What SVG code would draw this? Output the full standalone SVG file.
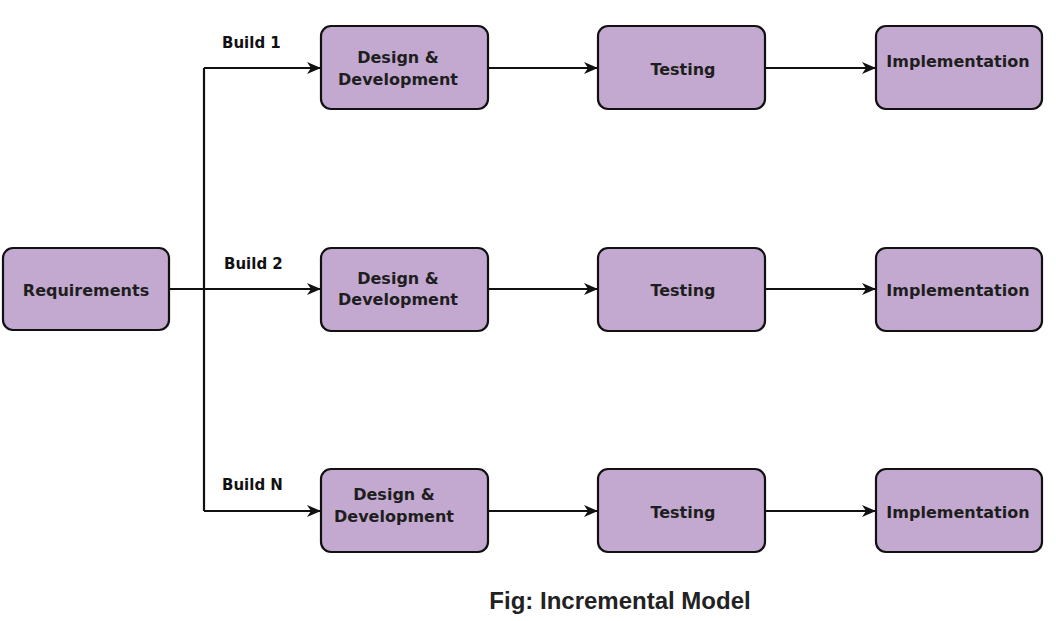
<svg xmlns="http://www.w3.org/2000/svg" width="1056" height="621" viewBox="0 0 1056 621">
  <style>
    .box { fill: #c3a9d0; stroke: #111; stroke-width: 2.2; }
    .lbl { font-family: "DejaVu Sans", Verdana, sans-serif; font-weight: bold; font-size: 16px; fill: #1e1e1e; text-anchor: middle; }
    .build { font-family: "DejaVu Sans", Verdana, sans-serif; font-weight: bold; font-size: 15px; fill: #111; }
    .title { font-family: "Liberation Sans", Arial, sans-serif; font-weight: bold; font-size: 24px; fill: #222; text-anchor: middle; }
    .conn { stroke: #111; stroke-width: 2.2; fill: none; }
  </style>
  <defs>
    <marker id="arr" viewBox="0 0 14 12" refX="14" refY="6" markerWidth="14" markerHeight="12" markerUnits="userSpaceOnUse" orient="auto">
      <path d="M0,0 L14,6 L0,12 L4,6 Z" fill="#111"/>
    </marker>
  </defs>
  <rect width="1056" height="621" fill="#ffffff"/>

  <g id="connectors">
    <path class="conn" d="M169,289 L321,289" marker-end="url(#arr)"/>
    <path class="conn" d="M204,68 L204,511"/>
    <path class="conn" d="M204,68 L321,68" marker-end="url(#arr)"/>
    <path class="conn" d="M204,511 L321,511" marker-end="url(#arr)"/>
    <path class="conn" d="M488,68 L598,68" marker-end="url(#arr)"/>
    <path class="conn" d="M488,289 L598,289" marker-end="url(#arr)"/>
    <path class="conn" d="M488,511 L598,511" marker-end="url(#arr)"/>
    <path class="conn" d="M765,68 L876,68" marker-end="url(#arr)"/>
    <path class="conn" d="M765,289 L876,289" marker-end="url(#arr)"/>
    <path class="conn" d="M765,511 L876,511" marker-end="url(#arr)"/>
    <text class="build" x="222" y="48">Build 1</text>
    <text class="build" x="224" y="269">Build 2</text>
    <text class="build" x="222" y="490">Build N</text>
  </g>

  <g id="requirements">
    <rect class="box" x="3" y="248" width="166" height="82" rx="10"/>
    <text class="lbl" x="86" y="296">Requirements</text>
  </g>

  <g id="design1">
    <rect class="box" x="321" y="26" width="167" height="83" rx="10"/>
    <text class="lbl" x="398" y="63">Design &amp;</text>
    <text class="lbl" x="398" y="85">Development</text>
  </g>
  <g id="testing1">
    <rect class="box" x="598" y="26" width="167" height="83" rx="10"/>
    <text class="lbl" x="683" y="75">Testing</text>
  </g>
  <g id="impl1">
    <rect class="box" x="876" y="26" width="166" height="83" rx="10"/>
    <text class="lbl" x="958" y="67">Implementation</text>
  </g>

  <g id="design2">
    <rect class="box" x="321" y="248" width="167" height="83" rx="10"/>
    <text class="lbl" x="398" y="284">Design &amp;</text>
    <text class="lbl" x="398" y="305">Development</text>
  </g>
  <g id="testing2">
    <rect class="box" x="598" y="248" width="167" height="83" rx="10"/>
    <text class="lbl" x="683" y="296">Testing</text>
  </g>
  <g id="impl2">
    <rect class="box" x="876" y="248" width="166" height="83" rx="10"/>
    <text class="lbl" x="958" y="296">Implementation</text>
  </g>

  <g id="design3">
    <rect class="box" x="321" y="469" width="167" height="83" rx="10"/>
    <text class="lbl" x="394" y="500">Design &amp;</text>
    <text class="lbl" x="394" y="522">Development</text>
  </g>
  <g id="testing3">
    <rect class="box" x="598" y="469" width="167" height="83" rx="10"/>
    <text class="lbl" x="683" y="518">Testing</text>
  </g>
  <g id="impl3">
    <rect class="box" x="876" y="469" width="166" height="83" rx="10"/>
    <text class="lbl" x="958" y="518">Implementation</text>
  </g>

  <text class="title" x="620" y="609">Fig: Incremental Model</text>
</svg>
